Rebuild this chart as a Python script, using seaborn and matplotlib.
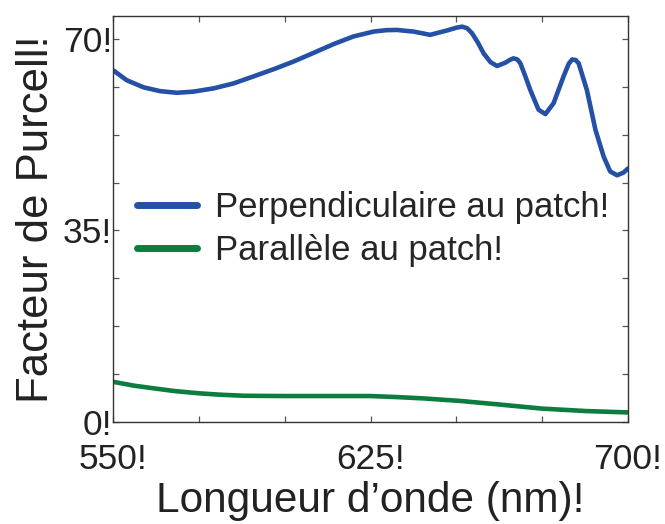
import matplotlib
matplotlib.use("Agg")
import matplotlib.pyplot as plt
import seaborn as sns
import pandas as pd

# Courbe perpendiculaire
wl_perp = [550, 553.9, 558.8, 563.6, 568.5, 573.3, 579.2, 585.0, 590.9, 596.7,
           602.5, 608.4, 614.2, 620.0, 625.9, 629.5, 632.7, 637.5, 642.4, 647.3,
           650.0, 651.7, 653.2, 654.6, 656.3, 658.0, 660.0, 661.9, 664.3, 665.6,
           666.7, 667.8, 668.7, 670.1, 671.6, 674.0, 676.0, 678.4, 681.3, 682.8,
           683.8, 684.8, 685.7, 688.1, 690.6, 693.0, 694.9, 696.9, 698.8, 700]
fp_perp = [64.3, 62.5, 61.2, 60.5, 60.2, 60.4, 61.0, 61.9, 63.2, 64.5,
           65.9, 67.5, 69.1, 70.5, 71.4, 71.65, 71.7, 71.4, 70.8, 71.6,
           72.1, 72.3, 72.0, 71.1, 69.4, 67.4, 65.8, 65.1, 65.7, 66.2,
           66.5, 66.3, 65.6, 63.3, 60.7, 57.1, 56.3, 58.3, 63.2, 65.5,
           66.3, 66.2, 65.6, 60.7, 53.4, 48.5, 45.8, 45.1, 45.6, 46.3]

# Courbe parallele
wl_par = [550, 556, 561.9, 568, 575, 581, 588.1, 600, 612, 625, 633, 640.6,
          651.2, 661.7, 675, 687.9, 700]
fp_par = [7.3, 6.6, 6.1, 5.6, 5.2, 4.95, 4.75, 4.7, 4.7, 4.7, 4.5, 4.26,
          3.8, 3.2, 2.4, 1.95, 1.7]

labels = ["Perpendiculaire au patch!", "Parallèle au patch!"]
colors = ["#2451a6", "#0b7d3e"]

df = pd.concat([
    pd.DataFrame({"wl": wl_perp, "fp": fp_perp, "serie": labels[0]}),
    pd.DataFrame({"wl": wl_par, "fp": fp_par, "serie": labels[1]}),
])

sns.set_style("ticks")
plt.rcParams["font.family"] = ["Liberation Sans", "DejaVu Sans"]

fig = plt.figure(figsize=(6.65, 5.24), dpi=100)
ax = fig.add_axes([0.1704, 0.1952, 0.7735, 0.7748])

sns.lineplot(data=df, x="wl", y="fp", hue="serie", palette=colors, linewidth=3.3,
             ax=ax, sort=False)

ax.set_xlim(550, 700)
ax.set_ylim(0, 74.3)
ax.set_xticks([550, 575, 600, 625, 650, 675, 700])
ax.set_xticklabels(["550!", "", "", "625!", "", "", "700!"])
ax.set_yticks([0, 8.75, 17.5, 26.25, 35, 43.75, 52.5, 61.25, 70])
ax.set_yticklabels(["0!", "", "", "", "35!", "", "", "", "70!"])
ax.tick_params(direction="in", length=4, width=0.9, colors="#555555",
               labelcolor="#222222", labelsize=25.5, top=True, right=True)
ax.tick_params(axis="x", pad=15)
ax.tick_params(axis="y", pad=1)
for s in ax.spines.values():
    s.set_color("#333333")
    s.set_linewidth(1.0)

ax.set_xlabel("Longueur d’onde (nm)!", fontsize=30.5, color="#222222", labelpad=4)
ax.set_ylabel("Facteur de Purcell!", fontsize=31.5, color="#222222", labelpad=4)

leg = ax.legend(loc="center left", bbox_to_anchor=(0.0467, 0.4746), frameon=False,
                fontsize=25, handlelength=1.72, handletextpad=0.52, labelspacing=0.28,
                borderpad=0, borderaxespad=0)
for h in leg.get_lines():
    h.set_linewidth(5)

fig.savefig("out.png", dpi=100)
